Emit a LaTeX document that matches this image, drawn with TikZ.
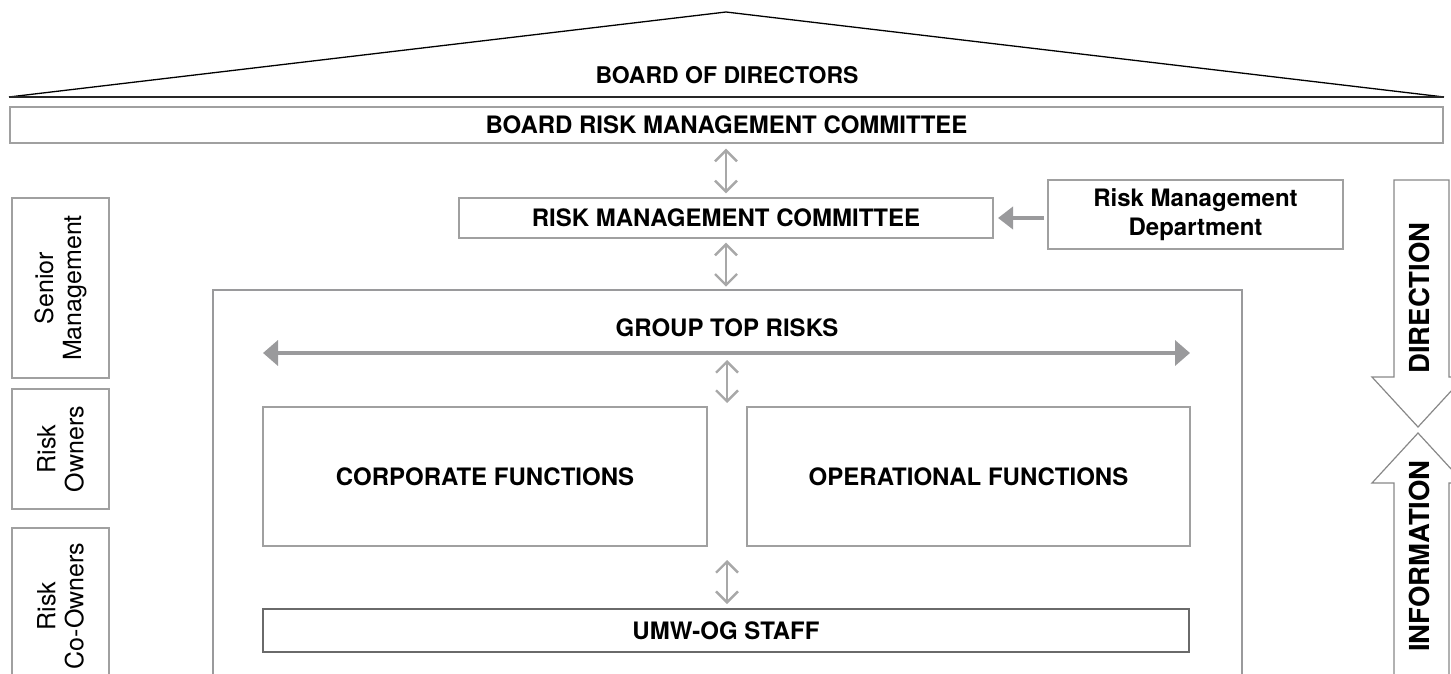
\documentclass[tikz,border=0pt]{standalone}
\usepackage{fontspec}
\setmainfont{TeX Gyre Heros}
\usetikzlibrary{arrows.meta}
\definecolor{boxgray}{HTML}{A0A0A0}
\definecolor{arrgray}{HTML}{A8A8A8}
\definecolor{darkgray}{HTML}{6A6A6A}
\definecolor{heavygray}{HTML}{9A9A9C}
\tikzset{
  box/.style={draw=boxgray, line width=1.3pt, inner sep=0pt, fill=white},
  heavybox/.style={draw=heavygray, line width=2.6pt, inner sep=0pt},
  staffbox/.style={draw=darkgray, line width=1.8pt, inner sep=0pt},
  lbl/.style={font=\bfseries\fontsize{24}{29}\selectfont, align=center},
  toplbl/.style={font=\bfseries\fontsize{23}{28}\selectfont, align=center},
  sidelbl/.style={font=\fontsize{25}{28}\selectfont, align=center},
  biglbl/.style={font=\bfseries\fontsize{27.5}{31}\selectfont},
  dbl/.style={draw=arrgray, line width=2.4pt, {Straight Barb[length=11pt,width=22pt]}-{Straight Barb[length=11pt,width=22pt]}},
  thick arrow/.style={draw=heavygray, line width=4.5pt},
  bigarrow/.style={draw=darkgray!80, line width=1.2pt, fill=white},
}
\begin{document}
\begin{tikzpicture}[x=1pt,y=-1pt]
\useasboundingbox (0,0) rectangle (1451,674);
\clip (0,0) rectangle (1451,674);
% roof
\coordinate (roofL) at (9,97);
\coordinate (apex) at (726,12);
\coordinate (roofR) at (1444,97);
\draw[line width=1.3pt, black] (roofL) -- (apex) -- (roofR);
\draw[line width=1.8pt, black!85] (roofL) -- (roofR);
\node[toplbl] (bod) at (727,75) {BOARD OF DIRECTORS};
% board risk management committee
\node[box, minimum width=1433pt, minimum height=36pt, lbl] (brmc) at (726.5,125) {BOARD RISK MANAGEMENT COMMITTEE};
% RMC
\node[box, minimum width=534pt, minimum height=40pt, lbl] (rmc) at (726,218) {RISK MANAGEMENT COMMITTEE};
% RMD
\node[box, minimum width=295pt, minimum height=69pt, lbl] (rmd) at (1195.5,214.5) {Risk Management\\Department};
\coordinate (rmdst) at (1044,218);
\coordinate (rmdend) at (998,218);
\draw[thick arrow, -{Triangle[length=15pt,width=22pt]}] (rmdst) -- (rmdend);
% outer
\node[heavybox, minimum width=1029pt, minimum height=430pt] (outer) at (727.5,505) {};
\node[lbl] (gtr) at (727,328) {GROUP TOP RISKS};
\coordinate (gl) at (263,353);
\coordinate (gr) at (1190,353);
\coordinate (gm) at (727,353);
\draw[thick arrow, {Triangle[length=15pt,width=25pt]}-{Triangle[length=15pt,width=25pt]}] (gl) -- (gr);
% functions
\node[box, minimum width=444pt, minimum height=139pt, lbl] (corp) at (485,476.5) {CORPORATE FUNCTIONS};
\node[box, minimum width=443pt, minimum height=139pt, lbl] (oper) at (968.5,476.5) {OPERATIONAL FUNCTIONS};
\coordinate (ftop) at (727,407);
\coordinate (fbot) at (727,546);
% staff
\node[staffbox, minimum width=926pt, minimum height=43pt, lbl] (umw) at (726,630.5) {UMW-OG STAFF};
% vertical double arrows
\draw[dbl, shorten <=5pt, shorten >=4pt] (brmc.south -| rmc.north) -- (rmc.north);
\draw[dbl, shorten <=4pt, shorten >=2pt] (rmc.south) -- (outer.north -| rmc.south);
\draw[dbl, shorten <=7pt, shorten >=4pt] (gm) -- (ftop);
\draw[dbl, shorten <=14pt, shorten >=4pt] (fbot) -- (umw.north -| fbot);
% left labels
\node[box, rotate=90, minimum width=180pt, minimum height=97pt, sidelbl] (sen) at (60.5,288) {Senior\\Management};
\node[box, rotate=90, minimum width=120pt, minimum height=97pt, sidelbl] (own) at (60.5,449) {Risk\\Owners};
\node[box, rotate=90, minimum width=172pt, minimum height=97pt, sidelbl, anchor=center] (coown) at (60.5,614) {};
\node[sidelbl, rotate=90] (coowntxt) at (60.5,606) {Risk\\Co-Owners};
% direction / information arrows
\draw[bigarrow] (1394,180) -- (1394,377) -- (1372,377) -- (1418,427) -- (1464,377) -- (1449,377) -- (1449,180) -- cycle;
\draw[bigarrow] (1394,700) -- (1394,483) -- (1372,483) -- (1418,433) -- (1464,483) -- (1449,483) -- (1449,700);
\node[biglbl, rotate=90] (dir) at (1419,298) {DIRECTION};
\node[biglbl, rotate=90] (inf) at (1419,556) {INFORMATION};
\end{tikzpicture}
\end{document}
